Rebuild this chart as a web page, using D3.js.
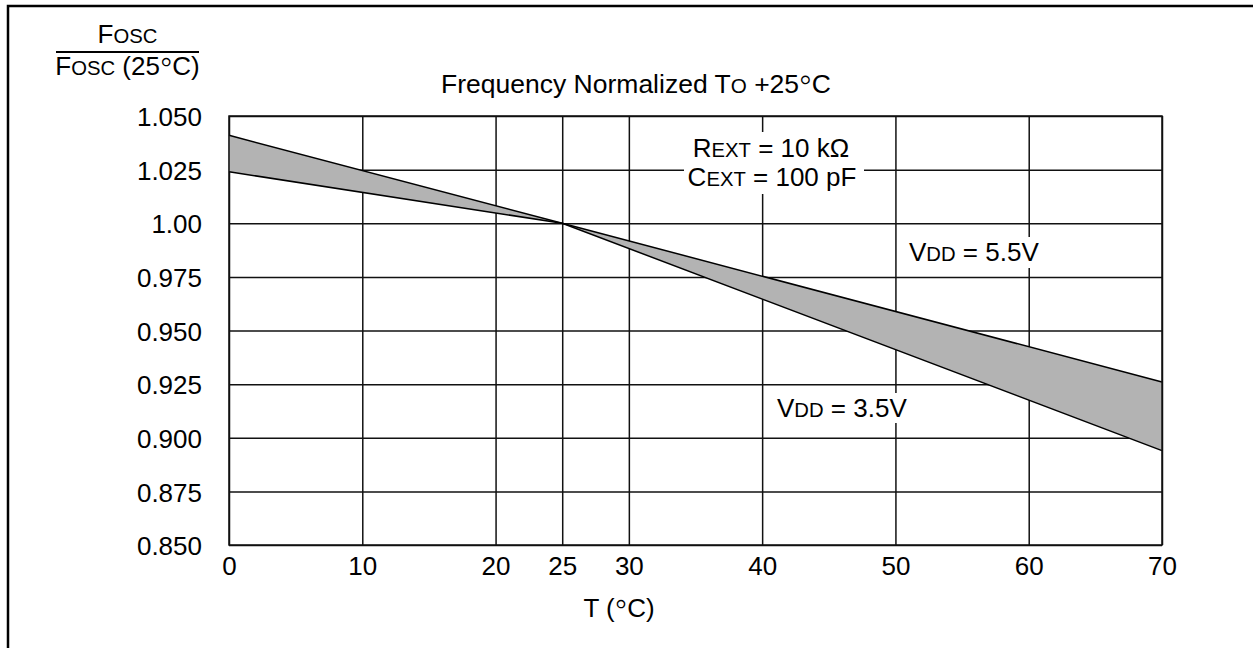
<!DOCTYPE html>
<html>
<head>
<meta charset="utf-8">
<script src="https://cdn.jsdelivr.net/npm/d3@7"></script>
<style>
  html, body { margin: 0; padding: 0; background: #fff; }
  svg { display: block; }
  text { font-family: "Liberation Sans", Arial, Helvetica, sans-serif; fill: #000; }
</style>
</head>
<body>
<svg id="chart" width="1253" height="648"></svg>
<script>
// ---- data ----
const temps = [0, 25, 70];
const vdd55 = [1.041, 1.000, 0.926];
const vdd35 = [1.024, 1.000, 0.894];
const xTicks = [0, 10, 20, 25, 30, 40, 50, 60, 70];
const xTickLabels = ["0", "10", "20", "25", "30", "40", "50", "60", "70"];
const yTicks = [0.850, 0.875, 0.900, 0.925, 0.950, 0.975, 1.000, 1.025, 1.050];
const yTickLabels = ["0.850", "0.875", "0.900", "0.925", "0.950", "0.975", "1.00", "1.025", "1.050"];

const FS = 26;
const SC = 0.78; // small caps ratio
const DEG = "\u25E6";
const svg = d3.select("#chart");

// outer frame
svg.append("rect").attr("x", 8).attr("y", 6).attr("width", 1400).attr("height", 800)
  .attr("fill", "none").attr("stroke", "#000").attr("stroke-width", 2.5);

const L = 229, R = 1162, T = 116, B = 545;
const x = d3.scaleLinear().domain([0, 70]).range([L, R]);
const y = d3.scaleLinear().domain([0.85, 1.05]).range([B, T]);

// grid + x axis
const xAxis = d3.axisBottom(x).tickValues(xTicks)
  .tickFormat((d, i) => xTickLabels[i]).tickSize(-(B - T)).tickPadding(11.5);
const gx = svg.append("g").attr("transform", `translate(0,${B})`).call(xAxis);
gx.select(".domain").remove();
gx.selectAll("line").attr("stroke", "#111").attr("stroke-width", 1.5);
gx.selectAll("text").attr("font-size", FS).attr("font-family", null).style("fill", "#000");

const yAxis = d3.axisLeft(y).tickValues(yTicks)
  .tickFormat((d, i) => yTickLabels[i]).tickSize(-(R - L)).tickPadding(27);
const gy = svg.append("g").attr("transform", `translate(${L},0)`).call(yAxis);
gy.select(".domain").remove();
gy.selectAll("line").attr("stroke", "#111").attr("stroke-width", 1.5);
gy.selectAll("text").attr("font-size", FS).attr("font-family", null).attr("dy", "0.37em").style("fill", "#000");

// band
const pts = temps.map((t, i) => ({ t, hi: vdd55[i], lo: vdd35[i] }));
const area = d3.area().x(d => x(d.t)).y0(d => y(d.lo)).y1(d => y(d.hi));
svg.append("path").datum(pts).attr("d", area).attr("fill", "#b3b3b3");
const line = key => d3.line().x(d => x(d.t)).y(d => y(d[key]));
svg.append("path").datum(pts).attr("d", line("hi")).attr("fill", "none").attr("stroke", "#000").attr("stroke-width", 1.5);
svg.append("path").datum(pts).attr("d", line("lo")).attr("fill", "none").attr("stroke", "#000").attr("stroke-width", 1.5);

// plot border
svg.append("rect").attr("x", L).attr("y", T).attr("width", R - L).attr("height", B - T)
  .attr("fill", "none").attr("stroke", "#111").attr("stroke-width", 1.5);

// helper: text with small caps / degree segments
// part kinds: 0 = normal, 1 = small caps, 2 = degree ring
function rich(xp, yp, parts, anchor, fs) {
  const f = fs || FS;
  const t = svg.append("text").attr("x", xp).attr("y", yp)
    .attr("font-size", f).attr("text-anchor", anchor || "start");
  let shifted = false;
  parts.forEach(([s, kind]) => {
    const sz = kind === 1 ? f * SC : kind === 2 ? f * 1.35 : f;
    const ts = t.append("tspan").attr("font-size", sz).text(s);
    if (kind === 2) { ts.attr("dy", -2.5); shifted = true; }
    else if (shifted) { ts.attr("dy", 2.5); shifted = false; }
  });
  return t;
}
function whiteBox(x0, y0, w, h) {
  svg.append("rect").attr("x", x0).attr("y", y0).attr("width", w).attr("height", h).attr("fill", "#fff");
}

// y-axis label (fraction)
rich(127.5, 43, [["F", 0], ["OSC", 1]], "middle");
svg.append("line").attr("x1", 56).attr("x2", 199).attr("y1", 52).attr("y2", 52)
  .attr("stroke", "#000").attr("stroke-width", 1.8);
rich(127.5, 75, [["F", 0], ["OSC", 1], [" (25", 0], [DEG, 2], ["C)", 0]], "middle");

// title
rich(636, 93, [["Frequency Normalized T", 0], ["O", 1], [" +25", 0], [DEG, 2], ["C", 0]], "middle", 26.5);

// annotations
whiteBox(684, 132, 180, 62);
rich(771, 157, [["R", 0], ["EXT", 1], [" = 10 k\u03A9", 0]], "middle");
rich(772, 186, [["C", 0], ["EXT", 1], [" = 100 pF", 0]], "middle");

whiteBox(905, 237, 140, 31);
rich(909, 261, [["V", 0], ["DD", 1], [" = 5.5V", 0]], "start");

whiteBox(772, 393, 142, 30);
rich(777, 417, [["V", 0], ["DD", 1], [" = 3.5V", 0]], "start");

// x-axis title
rich(619, 617, [["T (", 0], [DEG, 2], ["C)", 0]], "middle");
</script>
</body>
</html>
